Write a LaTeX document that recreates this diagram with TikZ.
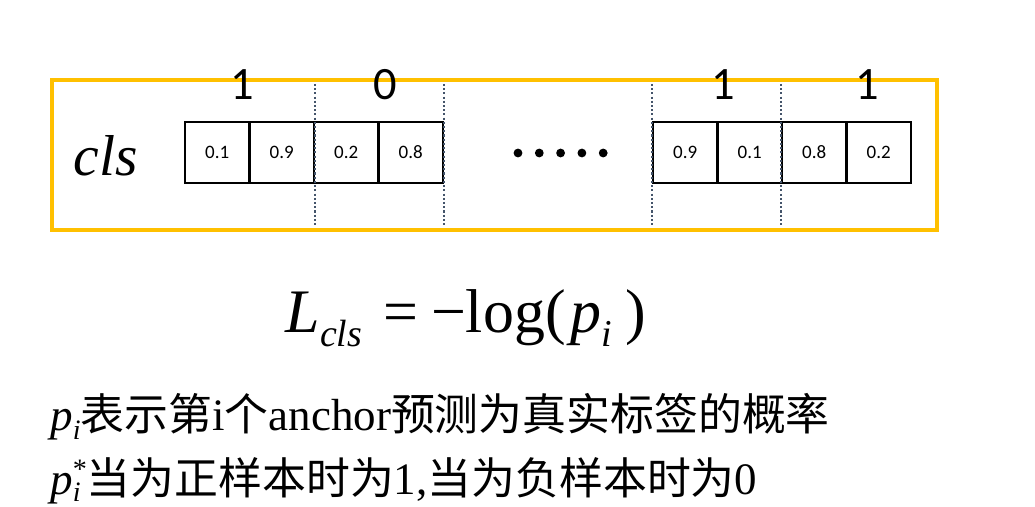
\documentclass[tikz,border=0pt]{standalone}
\usepackage{fontspec}
\setmainfont{Liberation Serif}
\newfontfamily\cjk[Scale=0.975]{Noto Sans CJK SC}
\newfontfamily\calibri{Carlito}
\usetikzlibrary{positioning}
\definecolor{boxyellow}{HTML}{FFC000}
\definecolor{sepgray}{HTML}{44546A}
% lowered index and raised star for the formulas
\newcommand{\lowidx}[2]{\raisebox{-#1}{\fontsize{20}{22}\selectfont\itshape #2}}
\newcommand{\bigidx}[2]{\raisebox{-#1}{\fontsize{27}{29}\selectfont\itshape #2}}

\begin{document}
\begin{tikzpicture}[
        x=0.025cm, y=-0.025cm,
        frame/.style={draw=boxyellow, line width=2.8pt},
        cell/.style={rectangle, draw=black, line width=1.6pt, minimum width=1.6125cm,
                     minimum height=1.525cm, inner sep=0pt,
                     font=\calibri\fontsize{13.5}{15}\selectfont},
        sep/.style={draw=sepgray, line width=1.5pt, dash pattern=on 1.5pt off 1.5pt},
        tag/.style={inner sep=0pt, font=\calibri\fontsize{33}{36}\selectfont},
        dot/.style={fill=black},
        txt/.style={inner sep=0pt, font=\fontsize{32}{36}\selectfont}
    ]
    \useasboundingbox (0,0) rectangle (1035,507);

    % Yellow frame
    \draw[frame] (52,80) rectangle (937,230);

    % Row label
    \node[anchor=base, inner sep=0pt, font=\fontsize{41}{44}\selectfont\itshape] (clsname) at (106,175) {cls};

    % Left group of score cells
    \foreach \v [count=\k] in {0.1,0.9,0.2,0.8}
        \node[cell] (a\k) at ({217.25+64.5*(\k-1)},152.5) {\v};

    % Right group of score cells
    \foreach \v [count=\k] in {0.9,0.1,0.8,0.2}
        \node[cell] (b\k) at ({685.25+64.5*(\k-1)},152.5) {\v};

    % Ellipsis
    \foreach \i in {0,...,4}
        \fill[dot] ({518+21.3*\i},153) circle[radius=0.11cm];

    % Dotted anchor separators
    \foreach \c/\s in {a2/east,a4/east,b1/west,b3/west}
        \draw[sep] ([yshift=0.925cm]\c.north \s) -- ([yshift=-1.05cm]\c.south \s);

    % Labels above each anchor pair
    \node[tag] (t1) at (242,85) {1};
    \node[tag] (t2) at (385,85) {0};
    \node[tag] (t3) at (723,85) {1};
    \node[tag] (t4) at (867,85) {1};

    % Loss formula
    \node[txt, anchor=base, font=\fontsize{44}{48}\selectfont] (loss) at (466,332)
        {\textit{L}\bigidx{10pt}{cls}\hspace{0.35em}=\hspace{0.2em}−log(\hspace{0.08em}\textit{p}\bigidx{10pt}{i}\hspace{0.22em})};

    % Explanations
    \node[txt, anchor=base west] (line1) at (50,430)
        {\textit{p}\lowidx{7pt}{i}{\cjk 表示第}i{\cjk 个}anchor{\cjk 预测为真实标签的概率}};
    \node[txt, anchor=base west] (line2) at (50,494)
        {\textit{p}\rlap{\lowidx{5pt}{i}}\raisebox{11pt}{\fontsize{20}{22}\selectfont *}{\cjk 当为正样本时为}1,{\cjk 当为负样本时为}0};

\end{tikzpicture}
\end{document}
